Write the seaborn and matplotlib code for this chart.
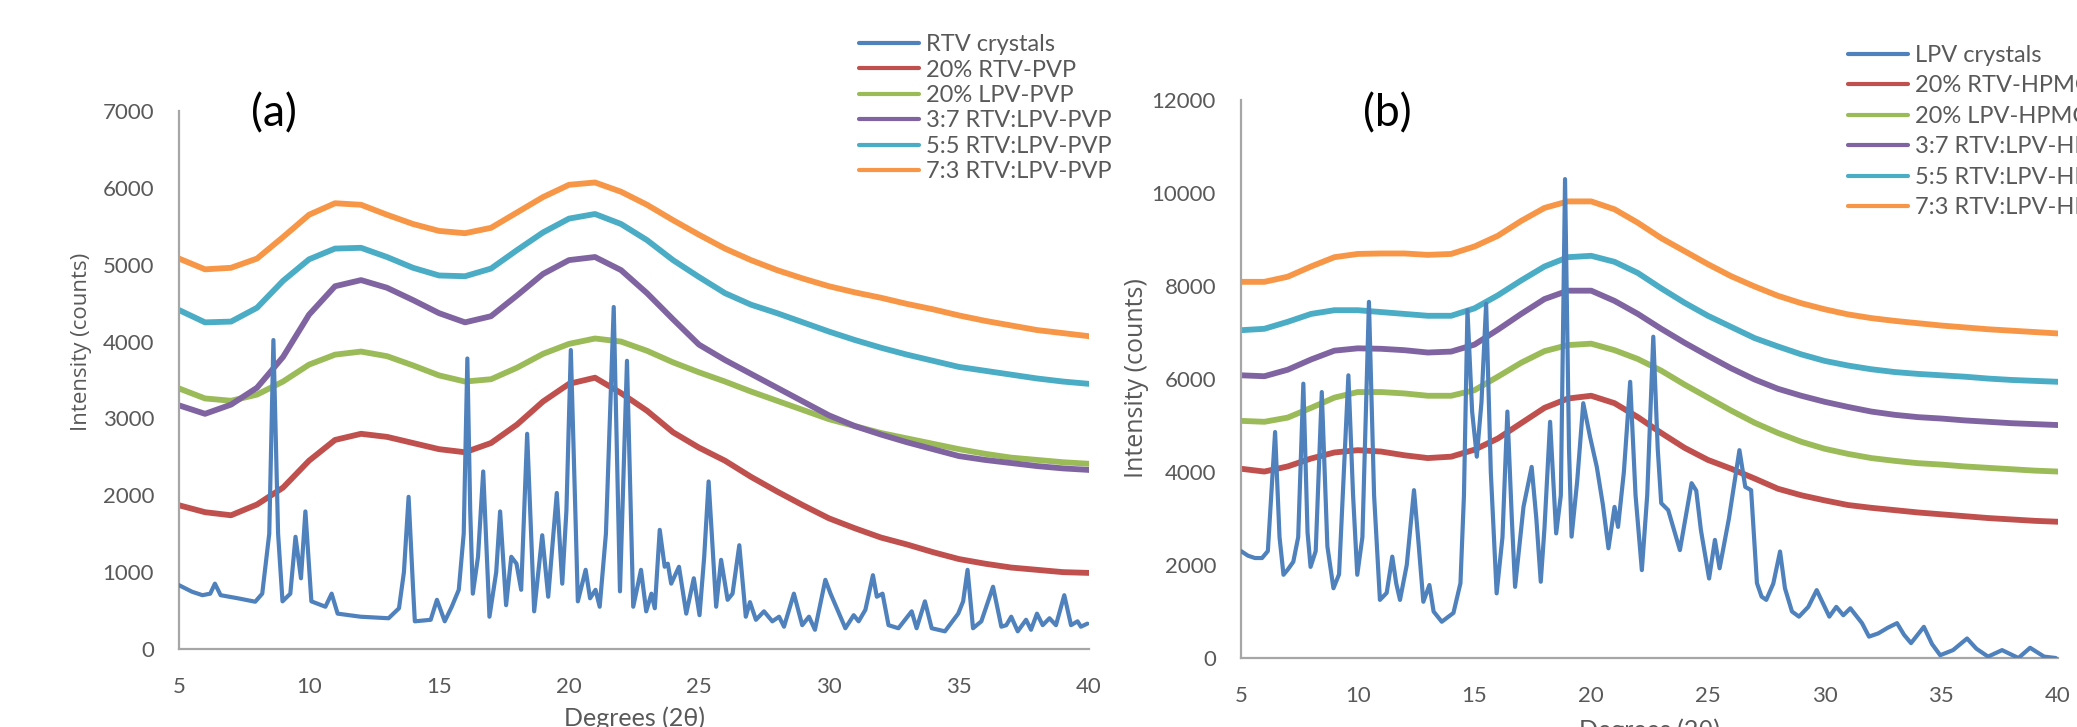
import pandas as pd
import seaborn as sns
import matplotlib.pyplot as plt
from matplotlib.lines import Line2D

# 2theta grid used for the amorphous traces
deg = [5, 6, 7, 8, 9, 10, 11, 12, 13, 14, 15, 16, 17, 18, 19, 20, 21, 22,
       23, 24, 25, 26, 27, 28, 29, 30, 31, 32, 33, 34, 35, 36, 37, 38, 39, 40]

# ---- panel (a): PVP dispersions ----
rtv_deg = [5.0, 5.5, 5.9, 6.2, 6.38, 6.6, 7.26, 7.93, 8.2, 8.47, 8.63, 8.81, 8.98, 9.28,
           9.48, 9.69, 9.86, 10.09, 10.63, 10.87, 11.1, 11.98, 13.06, 13.46, 13.65, 13.83,
           14.0, 14.07, 14.68, 14.92, 15.22, 15.49, 15.76, 15.95, 16.09, 16.2, 16.3, 16.5,
           16.7, 16.94, 17.2, 17.35, 17.58, 17.78, 17.98, 18.16, 18.39, 18.66, 18.97, 19.2,
           19.53, 19.74, 19.9, 20.07, 20.34, 20.64, 20.81, 21.02, 21.18, 21.42, 21.72, 21.96,
           22.23, 22.47, 22.77, 22.97, 23.17, 23.3, 23.49, 23.68, 23.8, 23.93, 24.23, 24.51,
           24.8, 25.02, 25.2, 25.37, 25.66, 25.85, 26.1, 26.29, 26.55, 26.8, 26.96, 27.19,
           27.5, 27.82, 28.08, 28.27, 28.65, 28.97, 29.23, 29.46, 29.86, 30.06, 30.63, 30.95,
           31.14, 31.4, 31.69, 31.84, 32.06, 32.29, 32.67, 33.18, 33.37, 33.69, 33.95, 34.46,
           34.97, 35.16, 35.33, 35.54, 35.86, 36.31, 36.63, 36.82, 37.01, 37.26, 37.58, 37.77,
           38.0, 38.22, 38.48, 38.73, 39.05, 39.31, 39.56, 39.69, 39.94]
rtv_cnt = [830, 745, 700, 720, 850, 700, 660, 615, 720, 1500, 4020, 1500, 620, 720,
           1460, 920, 1790, 620, 550, 720, 460, 420, 400, 530, 1000, 1980,
           800, 360, 380, 640, 360, 550, 770, 1500, 3780, 1800, 720, 1200,
           2310, 420, 1000, 1790, 570, 1200, 1110, 770, 2800, 490, 1480, 680,
           2030, 850, 1800, 3890, 620, 1030, 660, 770, 550, 1500, 4450, 750,
           3750, 550, 1030, 490, 720, 530, 1550, 1070, 1110, 850, 1070, 460,
           920, 440, 1200, 2180, 550, 1160, 640, 720, 1350, 420, 610, 380,
           490, 360, 420, 290, 720, 310, 420, 250, 900, 720, 270, 440,
           360, 510, 960, 680, 720, 310, 270, 490, 270, 620, 270, 230,
           460, 620, 1030, 270, 360, 810, 290, 310, 420, 230, 380, 250,
           460, 310, 400, 310, 700, 310, 360, 290, 330]
a_rtv20 = [1870, 1780, 1740, 1880, 2100, 2450, 2720, 2800, 2760, 2680, 2600, 2560,
           2680, 2920, 3220, 3450, 3530, 3330, 3100, 2820, 2620, 2450, 2240, 2050,
           1870, 1700, 1570, 1450, 1360, 1260, 1170, 1110, 1060, 1030, 1000, 990]
a_lpv20 = [3390, 3260, 3230, 3310, 3480, 3700, 3830, 3870, 3810, 3690, 3560, 3480,
           3510, 3660, 3840, 3970, 4040, 4000, 3880, 3730, 3600, 3480, 3350, 3230,
           3110, 2990, 2900, 2810, 2740, 2670, 2600, 2540, 2490, 2460, 2430, 2410]
a_37 = [3170, 3060, 3180, 3400, 3800, 4350, 4720, 4800, 4700, 4540, 4370, 4250,
        4330, 4600, 4880, 5060, 5100, 4930, 4630, 4290, 3960, 3760, 3580, 3400,
        3220, 3040, 2900, 2790, 2690, 2600, 2510, 2460, 2420, 2380, 2350, 2330]
a_55 = [4410, 4250, 4260, 4440, 4790, 5070, 5210, 5220, 5100, 4960, 4860, 4850,
        4950, 5190, 5420, 5600, 5660, 5530, 5320, 5060, 4840, 4630, 4480, 4370,
        4250, 4130, 4020, 3920, 3830, 3750, 3670, 3620, 3570, 3520, 3480, 3450]
a_73 = [5080, 4940, 4960, 5080, 5360, 5650, 5800, 5780, 5650, 5530, 5440, 5410,
        5480, 5680, 5880, 6040, 6070, 5950, 5780, 5580, 5390, 5210, 5060, 4930,
        4820, 4720, 4640, 4570, 4490, 4420, 4340, 4270, 4210, 4150, 4110, 4070]

# ---- panel (b): HPMC dispersions ----
lpv_deg = [5.0, 5.3, 5.6, 5.9, 6.15, 6.46, 6.65, 6.82, 7.0, 7.24, 7.45, 7.67, 7.85, 7.98,
           8.2, 8.46, 8.7, 8.96, 9.2, 9.6, 9.8, 9.98, 10.2, 10.48, 10.7, 10.95, 11.24,
           11.48, 11.65, 11.81, 12.1, 12.41, 12.6, 12.81, 13.07, 13.25, 13.6, 14.1, 14.4,
           14.55, 14.7, 14.9, 15.1, 15.3, 15.5, 15.7, 15.95, 16.2, 16.41, 16.6, 16.74,
           17.1, 17.45, 17.65, 17.84, 18.0, 18.24, 18.5, 18.7, 18.88, 19.05, 19.16, 19.4,
           19.66, 19.95, 20.24, 20.5, 20.74, 21.0, 21.15, 21.4, 21.67, 21.9, 22.17, 22.4,
           22.66, 22.85, 23.0, 23.3, 23.8, 24.3, 24.5, 24.7, 25.05, 25.3, 25.5, 25.9,
           26.35, 26.6, 26.85, 27.1, 27.3, 27.5, 27.8, 28.09, 28.3, 28.6, 28.9, 29.3,
           29.66, 30.0, 30.2, 30.5, 30.8, 31.1, 31.6, 31.9, 32.3, 32.7, 33.1, 33.4,
           33.7, 34.25, 34.6, 34.95, 35.5, 36.1, 36.5, 37.0, 37.6, 38.3, 38.8, 39.4, 39.9]
lpv_cnt = [2300, 2200, 2150, 2150, 2300, 4860, 2600, 1790, 1900, 2070, 2600, 5900, 2700, 1960,
           2300, 5720, 2400, 1500, 1800, 6080, 3500, 1790, 2600, 7660, 3500, 1250, 1400,
           2180, 1600, 1250, 2000, 3610, 2500, 1210, 1570, 1000, 780, 970, 1610,
           3500, 7480, 5300, 4330, 5500, 7620, 4000, 1390, 2600, 5300, 3000, 1530,
           3250, 4110, 3000, 1640, 2800, 5080, 2680, 3500, 10300, 4500, 2610, 3800,
           5480, 4760, 4110, 3300, 2360, 3250, 2820, 4000, 5940, 3500, 1890, 3500,
           6910, 4500, 3330, 3180, 2320, 3760, 3600, 2750, 1710, 2540, 1930, 3000,
           4470, 3680, 3610, 1610, 1320, 1250, 1600, 2290, 1500, 1000, 890, 1100,
           1460, 1100, 890, 1100, 920, 1070, 750, 460, 530, 650, 750, 500,
           320, 670, 300, 60, 170, 420, 200, 30, 170, 0, 220, 30, 0]
b_rtv20 = [4070, 4010, 4120, 4290, 4420, 4470, 4440, 4360, 4300, 4330, 4480, 4720,
           5050, 5380, 5580, 5640, 5480, 5180, 4840, 4520, 4260, 4070, 3860, 3640,
           3500, 3390, 3290, 3230, 3180, 3130, 3090, 3050, 3010, 2980, 2950, 2930]
b_lpv20 = [5100, 5080, 5170, 5380, 5600, 5720, 5720, 5690, 5640, 5640, 5760, 6050,
           6350, 6600, 6730, 6760, 6620, 6430, 6180, 5880, 5600, 5320, 5060, 4840,
           4650, 4500, 4390, 4300, 4240, 4190, 4160, 4120, 4090, 4060, 4030, 4010]
b_37 = [6080, 6060, 6200, 6420, 6610, 6660, 6650, 6620, 6570, 6590, 6740, 7060,
        7400, 7720, 7900, 7900, 7680, 7400, 7080, 6780, 6500, 6230, 5990, 5790,
        5640, 5510, 5400, 5300, 5230, 5180, 5150, 5110, 5080, 5050, 5030, 5010]
b_55 = [7050, 7080, 7230, 7400, 7480, 7480, 7440, 7400, 7360, 7360, 7520, 7800,
        8120, 8420, 8620, 8650, 8520, 8280, 7950, 7640, 7360, 7120, 6880, 6700,
        6530, 6390, 6290, 6210, 6150, 6110, 6080, 6050, 6010, 5980, 5960, 5940]
b_73 = [8090, 8090, 8200, 8420, 8620, 8690, 8700, 8700, 8670, 8690, 8850, 9080,
        9400, 9680, 9820, 9820, 9650, 9360, 9030, 8750, 8470, 8210, 7990, 7790,
        7630, 7500, 7390, 7310, 7250, 7200, 7150, 7110, 7070, 7040, 7010, 6980]

names_a = ['RTV crystals', '20% RTV-PVP', '20% LPV-PVP',
           '3:7 RTV:LPV-PVP', '5:5 RTV:LPV-PVP', '7:3 RTV:LPV-PVP']
names_b = ['LPV crystals', '20% RTV-HPMC', '20% LPV-HPMC',
           '3:7 RTV:LPV-HPMC', '5:5 RTV:LPV-HPMC', '7:3 RTV:LPV-HPMC']
colors = ['#4F81BD', '#C0504D', '#9BBB59', '#8064A2', '#4BACC6', '#F79646']

sns.set_style('white')
plt.rcParams['font.family'] = ['Lato', 'DejaVu Sans']
grey = '#595959'


def to_long(xs, ys, name):
    return pd.DataFrame({'deg': xs, 'counts': ys, 'sample': name})


fig = plt.figure(figsize=(20.77, 7.27), dpi=100)
ax_a = fig.add_axes([0.0862, 0.1073, 0.4381, 0.7400])
ax_b = fig.add_axes([0.5975, 0.0949, 0.3934, 0.7675])

panels = [
    (ax_a, names_a, (rtv_deg, rtv_cnt), [a_rtv20, a_lpv20, a_37, a_55, a_73]),
    (ax_b, names_b, (lpv_deg, lpv_cnt), [b_rtv20, b_lpv20, b_37, b_55, b_73]),
]

for ax, names, crystal, amorphous in panels:
    # amorphous dispersions first, crystalline pattern on top
    for i, ys in enumerate(amorphous):
        sns.lineplot(data=to_long(deg, ys, names[i + 1]), x='deg', y='counts',
                     color=colors[i + 1], linewidth=4.2, estimator=None,
                     sort=False, ax=ax, zorder=2)
    sns.lineplot(data=to_long(crystal[0], crystal[1], names[0]), x='deg', y='counts',
                 color=colors[0], linewidth=3.0, estimator=None, sort=False,
                 ax=ax, zorder=3)

# axes styling (Excel look)
for ax, ymax, ystep in [(ax_a, 7000, 1000), (ax_b, 12000, 2000)]:
    ax.set_xlim(5, 40)
    ax.set_ylim(0, ymax)
    ax.set_xticks(range(5, 41, 5))
    ax.set_yticks(range(0, ymax + 1, ystep))
    ax.tick_params(length=0, labelsize=16, labelcolor=grey)
    ax.tick_params(axis='y', pad=18)
    ax.tick_params(axis='x', pad=20)
    for s in ['top', 'right']:
        ax.spines[s].set_visible(False)
    for s in ['left', 'bottom']:
        ax.spines[s].set_color('#A6A6A6')
        ax.spines[s].set_linewidth(1.6)
    ax.set_xlabel('Degrees (2θ)', fontsize=18, color=grey)
    ax.grid(False)

ax_a.set_ylabel('Intensity (counts)', fontsize=16, color=grey, family=['Open Sans', 'DejaVu Sans'])
ax_b.set_ylabel('Intensity (counts)', fontsize=18, color=grey, family=['Open Sans', 'DejaVu Sans'])
ax_a.yaxis.set_label_coords(-0.0956, 0.571)
ax_b.yaxis.set_label_coords(-0.1126, 0.502)
ax_a.xaxis.set_label_coords(0.5, -0.106)
ax_b.xaxis.set_label_coords(0.5, -0.1075)

fig.text(0.1319, 0.8432, '(a)', fontsize=32, ha='center', va='center', color='black')
fig.text(0.6678, 0.8437, '(b)', fontsize=32, ha='center', va='center', color='black')

# legends outside the plot area, upper right of each panel
for ax, names, anchor, spacing in [(ax_a, names_a, (0.4136, 0.9532), 0.19),
                                    (ax_b, names_b, (0.8897, 0.9381), 0.40)]:
    handles = [Line2D([0], [0], color=c, linewidth=3.0) for c in colors]
    ax.legend(handles, names, loc='upper left', bbox_to_anchor=anchor,
              bbox_transform=fig.transFigure, frameon=False, fontsize=17,
              labelcolor=grey, handlelength=2.55, handletextpad=0.3,
              labelspacing=spacing, borderpad=0, borderaxespad=0)

fig.savefig('out.png', dpi=100)
